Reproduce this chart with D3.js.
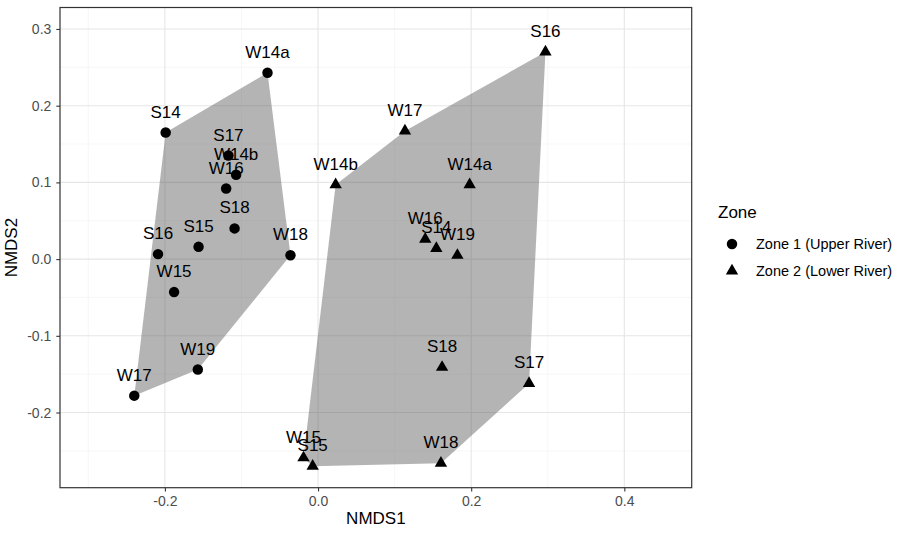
<!DOCTYPE html>
<html>
  <head>
    <meta charset="utf-8">
    <title></title>
    <script type="text/javascript" src="https://d3js.org/d3.v7.min.js"></script>
    <style media="screen">
      body { margin: 0; background: #fff; }
      text { font-family: "Liberation Sans", Arial, sans-serif; }
    </style>
  </head>
  <body>

    <script type="text/javascript">

      // zone 1 (upper river), circles
      var sites1 = ["W14a","S14","S17","W14b","W16","S18","S15","S16","W18","W15","W19","W17"];
      var nmds1_z1 = [-0.066,-0.199,-0.117,-0.107,-0.120,-0.109,-0.156,-0.209,-0.036,-0.188,-0.157,-0.240];
      var nmds2_z1 = [0.243,0.165,0.135,0.110,0.092,0.040,0.016,0.0065,0.005,-0.043,-0.144,-0.178];

      // zone 2 (lower river), triangles
      var sites2 = ["S16","W17","W14b","W14a","W16","S14","W19","S18","S17","W18","W15","S15"];
      var nmds1_z2 = [0.297,0.1135,0.023,0.198,0.140,0.1545,0.182,0.162,0.2756,0.1605,-0.019,-0.007];
      var nmds2_z2 = [0.270,0.167,0.097,0.097,0.026,0.014,0.005,-0.141,-0.162,-0.266,-0.259,-0.270];

      var zones = ["Zone 1 (Upper River)", "Zone 2 (Lower River)"];
      var xTicks = [-0.2, 0.0, 0.2, 0.4];
      var xTickLabels = ["-0.2", "0.0", "0.2", "0.4"];
      var yTicks = [-0.2, -0.1, 0.0, 0.1, 0.2, 0.3];
      var yTickLabels = ["-0.2", "-0.1", "0.0", "0.1", "0.2", "0.3"];
      var xMinor = [-0.3, -0.1, 0.1, 0.3];
      var yMinor = [-0.25, -0.15, -0.05, 0.05, 0.15, 0.25];

      var w = 902;
      var h = 534;
      var pLeft = 60, pRight = 691.7, pTop = 7.5, pBottom = 487.7;

      var xscale = d3.scaleLinear().domain([-0.337, 0.488]).range([pLeft, pRight]);
      var yscale = d3.scaleLinear().domain([-0.298, 0.328]).range([pBottom, pTop]);

      var pts = [];
      sites1.forEach(function(s, i){
        pts.push({site: s, zone: 0, x: nmds1_z1[i], y: nmds2_z1[i]});
      });
      sites2.forEach(function(s, i){
        pts.push({site: s, zone: 1, x: nmds1_z2[i], y: nmds2_z2[i]});
      });

      var svg = d3.select('body')
        .append('svg')
        .attr('width', w)
        .attr('height', h);

      // grid
      var grid = svg.append('g');
      grid.selectAll('.vminor').data(xMinor).enter().append('line')
        .attr('x1', xscale).attr('x2', xscale).attr('y1', pTop).attr('y2', pBottom)
        .attr('stroke', '#f2f2f2').attr('stroke-width', 0.6);
      grid.selectAll('.hminor').data(yMinor).enter().append('line')
        .attr('y1', yscale).attr('y2', yscale).attr('x1', pLeft).attr('x2', pRight)
        .attr('stroke', '#f2f2f2').attr('stroke-width', 0.6);
      grid.selectAll('.vmajor').data(xTicks).enter().append('line')
        .attr('x1', xscale).attr('x2', xscale).attr('y1', pTop).attr('y2', pBottom)
        .attr('stroke', '#e6e6e6').attr('stroke-width', 1.1);
      grid.selectAll('.hmajor').data(yTicks).enter().append('line')
        .attr('y1', yscale).attr('y2', yscale).attr('x1', pLeft).attr('x2', pRight)
        .attr('stroke', '#e6e6e6').attr('stroke-width', 1.1);

      // hulls
      [0, 1].forEach(function(z){
        var p = pts.filter(function(d){ return d.zone == z; })
          .map(function(d){ return [xscale(d.x), yscale(d.y)]; });
        var hull = d3.polygonHull(p);
        svg.append('path')
          .attr('d', 'M' + hull.join('L') + 'Z')
          .attr('fill', '#4d4d4d')
          .attr('fill-opacity', 0.42);
      });

      var circle = d3.symbol().type(d3.symbolCircle).size(86);
      var tri = d3.symbol().type(d3.symbolTriangle).size(66);

      svg.selectAll('.pt')
        .data(pts)
        .enter()
        .append('path')
        .attr('transform', function(d){ return 'translate(' + xscale(d.x) + ',' + yscale(d.y) + ')'; })
        .attr('d', function(d){ return d.zone == 0 ? circle() : tri(); })
        .attr('fill', '#000');

      svg.selectAll('.lab')
        .data(pts)
        .enter()
        .append('text')
        .attr('x', function(d){ return xscale(d.x); })
        .attr('y', function(d){ return yscale(d.y) - 15; })
        .attr('text-anchor', 'middle')
        .attr('font-size', '17px')
        .attr('fill', '#000')
        .text(function(d){ return d.site; });

      // panel border
      svg.append('rect')
        .attr('x', pLeft).attr('y', pTop)
        .attr('width', pRight - pLeft).attr('height', pBottom - pTop)
        .attr('fill', 'none')
        .attr('stroke', '#333')
        .attr('stroke-width', 1.2);

      var xAxis = d3.axisBottom(xscale)
        .tickValues(xTicks)
        .tickFormat(function(d, i){ return xTickLabels[i]; })
        .tickSizeInner(3.7).tickSizeOuter(0).tickPadding(5);

      var yAxis = d3.axisLeft(yscale)
        .tickValues(yTicks)
        .tickFormat(function(d, i){ return yTickLabels[i]; })
        .tickSizeInner(3.7).tickSizeOuter(0).tickPadding(5);

      var gx = svg.append('g')
        .attr('class', 'x axis')
        .attr('transform', 'translate(0,' + pBottom + ')')
        .call(xAxis);

      var gy = svg.append('g')
        .attr('class', 'y axis')
        .attr('transform', 'translate(' + pLeft + ',0)')
        .call(yAxis);

      [gx, gy].forEach(function(g){
        g.select('.domain').remove();
        g.selectAll('line').attr('stroke', '#333').attr('stroke-width', 1.1);
        g.selectAll('text')
          .attr('fill', '#4d4d4d')
          .attr('font-size', '14px')
          .attr('font-family', '"Liberation Sans", Arial, sans-serif');
      });

      svg.append('text')
        .attr('transform', 'translate(' + ((pLeft + pRight) / 2) + ',' + 524 + ')')
        .attr('text-anchor', 'middle')
        .attr('font-size', '17px')
        .text('NMDS1');

      svg.append('text')
        .attr('transform', 'translate(' + 17 + ',' + ((pTop + pBottom) / 2) + ')rotate(-90)')
        .attr('text-anchor', 'middle')
        .attr('font-size', '17px')
        .text('NMDS2');

      // legend
      var legend = svg.append('g');
      legend.append('text')
        .attr('x', 718).attr('y', 218)
        .attr('font-size', '17px')
        .text('Zone');

      zones.forEach(function(z, i){
        var cy = 244 + i * 27;
        legend.append('path')
          .attr('transform', 'translate(732,' + cy + ')')
          .attr('d', i == 0 ? circle() : tri())
          .attr('fill', '#000');
        legend.append('text')
          .attr('x', 756).attr('y', cy + 5)
          .attr('font-size', '14.5px')
          .text(z);
      });

    </script>

  </body>
</html>
